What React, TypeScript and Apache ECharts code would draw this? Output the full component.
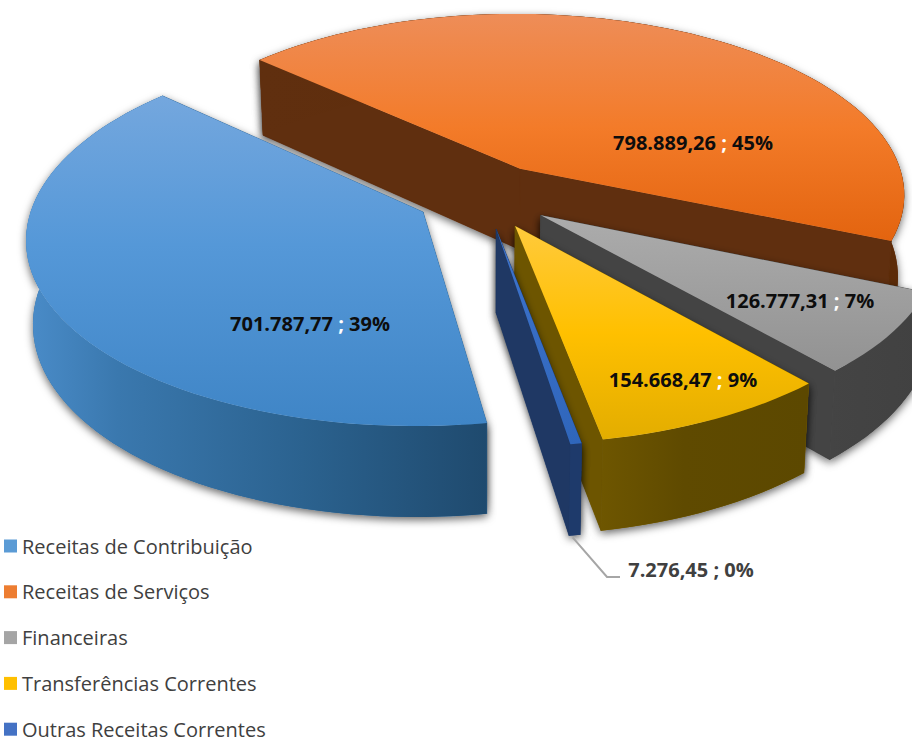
import React, { useEffect, useRef } from "react";
import * as echarts from "echarts";

const categories = ["Receitas de Contribuição", "Receitas de Serviços", "Financeiras", "Transferências Correntes", "Outras Receitas Correntes"];
const values = [701787.77, 798889.26, 126777.31, 154668.47, 7276.45];

const FONT = "'Open Sans', sans-serif";
const CX = 484, CY = 196, RX = 388, RY = 186, PX = 0.135, PY = 0.129, EXPLODE = 0.177, START = 80.7;
const WALL = 82, WALL_P = 0.1, BOTTOM_X = 0.985;

const grad = (x2: number, y2: number, stops: [number, string][]) =>
  new echarts.graphic.LinearGradient(0, 0, x2, y2, stops.map(([offset, color]) => ({ offset, color })));

const looks = [
  { legend: "#5b9bd5", top: [[0, "#74a7de"], [0.45, "#5598d8"], [1, "#3f85c6"]], side: "#2c6494", arc: [[0, "#4a8cc9"], [0.2, "#3a78ae"], [0.6, "#2b628f"], [1, "#1f4a6e"]], label: [310, 323], z: 5 },
  { legend: "#ed7d31", top: [[0, "#ee8d58"], [0.5, "#f37b29"], [1, "#e3640f"]], side: "#602f0f", arc: [[0, "#602f0f"], [1, "#5c2b08"]], label: [693, 142], z: 1 },
  { legend: "#a5a5a5", top: [[0, "#acacac"], [1, "#929292"]], side: "#444444", arc: [[0, "#444444"], [1, "#414141"]], label: [800, 300], z: 2 },
  { legend: "#ffc000", top: [[0, "#ffca3c"], [0.5, "#ffc000"], [1, "#e3ad00"]], side: "#6d5500", arc: [[0, "#6e5600"], [0.4, "#5f4a00"], [1, "#5c4800"]], label: [683, 379], z: 3 },
  { legend: "#4472c4", top: [[0, "#3f74cc"], [1, "#2f66bb"]], side: "#1f3864", arc: [[0, "#1e3a6b"], [1, "#1e3a6b"]], label: [691, 569], z: 4 },
];

const total = values.reduce((a, b) => a + b, 0);
const spans = values.map((v) => (v / total) * 360);
const starts = spans.map((_, i) => START + spans.slice(0, i).reduce((a, b) => a + b, 0));

const brl = (v: number) => {
  const [a, b] = v.toFixed(2).split(".");
  return a.replace(/\B(?=(\d{3})+$)/g, ".") + "," + b;
};

const top = (u: number, v: number) => [CX + RX * u * (1 + PX * v), CY + RY * v * (1 + PY * v)];
const bottom = (u: number, v: number) => {
  const [x, y] = top(u, v);
  return [CX + (x - CX) * BOTTOM_X, y + WALL * (1 + WALL_P * v)];
};

const shadow = { shadowBlur: 9, shadowColor: "rgba(0,0,0,0.6)", shadowOffsetX: 0, shadowOffsetY: 3 };

function renderSlice(i: number) {
  return () => {
    const look = looks[i];
    const mid = ((starts[i] + spans[i] / 2) * Math.PI) / 180;
    const cu = EXPLODE * Math.cos(mid), cv = EXPLODE * Math.sin(mid);
    const rim: [number, number][] = [];
    const steps = Math.max(4, Math.ceil(spans[i] / 2));
    for (let k = 0; k <= steps; k++) {
      const a = ((starts[i] + (spans[i] * k) / steps) * Math.PI) / 180;
      rim.push([cu + Math.cos(a), cv + Math.sin(a)]);
    }
    const rimTop = rim.map(([u, v]) => top(u, v));
    const rimBottom = rim.map(([u, v]) => bottom(u, v));
    const apexT = top(cu, cv), apexB = bottom(cu, cv);
    const last = rim.length - 1;
    const wallA = [apexT, rimTop[0], rimBottom[0], apexB];
    const wallB = [apexT, rimTop[last], rimBottom[last], apexB];
    const wallArc = [...rimTop, ...rimBottom.slice().reverse()];
    const poly = (points: any, style: any) => ({ type: "polygon", silent: true, shape: { points }, style });
    const children: any[] = [
      poly(wallA, { fill: look.side, ...shadow }),
      poly(wallB, { fill: look.side, ...shadow }),
      poly(wallArc, { fill: look.side, ...shadow }),
      poly(wallA, { fill: look.side, stroke: look.side, lineWidth: 0.5 }),
      poly(wallB, { fill: look.side, stroke: look.side, lineWidth: 0.5 }),
      poly(wallArc, { fill: grad(1, 0, look.arc as any) }),
      poly([apexT, ...rimTop], { fill: grad(0, 1, look.top as any) }),
    ];
    if (i === 4) {
      const anchor = rimBottom[Math.floor(last / 2)];
      children.push({
        type: "polyline", silent: true,
        shape: { points: [[anchor[0] - 2, anchor[1] + 2], [607, 577], [620, 577]] },
        style: { stroke: "#a6a6a6", lineWidth: 2, fill: "none" },
      });
    }
    const pct = Math.round((values[i] / total) * 100);
    const sep = i === 4 ? "d" : "s";
    const main = i === 4 ? "d" : "v";
    children.push({
      type: "text", silent: true, x: look.label[0], y: look.label[1],
      style: {
        text: `{${main}|${brl(values[i])} }{${sep}|;}{${main}| ${pct}%}`,
        align: "center", verticalAlign: "middle",
        rich: {
          v: { fontFamily: FONT, fontWeight: "bold", fontSize: 20, fill: "#0d0d0d", color: "#0d0d0d" },
          d: { fontFamily: FONT, fontWeight: "bold", fontSize: 20, fill: "#404040", color: "#404040" },
          s: { fontFamily: FONT, fontWeight: "bold", fontSize: 20, fill: "#ffffff", color: "#ffffff" },
        },
      },
    });
    return { type: "group", children };
  };
}

export default function App() {
  const ref = useRef<HTMLDivElement>(null);
  useEffect(() => {
    const chart = echarts.init(ref.current!, undefined, { renderer: "svg" });
    chart.setOption({
      animation: false,
      backgroundColor: "#ffffff",
      legend: {
        orient: "vertical", left: 4, top: 536, height: 300, padding: 0,
        itemWidth: 13, itemHeight: 13, itemGap: 25.8,
        icon: "rect", selectedMode: false, data: categories,
        textStyle: { fontFamily: FONT, fontSize: 20, color: "#404040", lineHeight: 20 },
      },
      series: categories.map((name, i) => ({
        type: "custom", name, coordinateSystem: "none", z: looks[i].z,
        itemStyle: { color: looks[i].legend },
        data: [[values[i]]],
        renderItem: renderSlice(i),
      })),
    });
    return () => chart.dispose();
  }, []);
  return <div ref={ref} style={{ position: "absolute", left: 0, top: 0, width: 912, height: 743, overflow: "hidden" }} />;
}
